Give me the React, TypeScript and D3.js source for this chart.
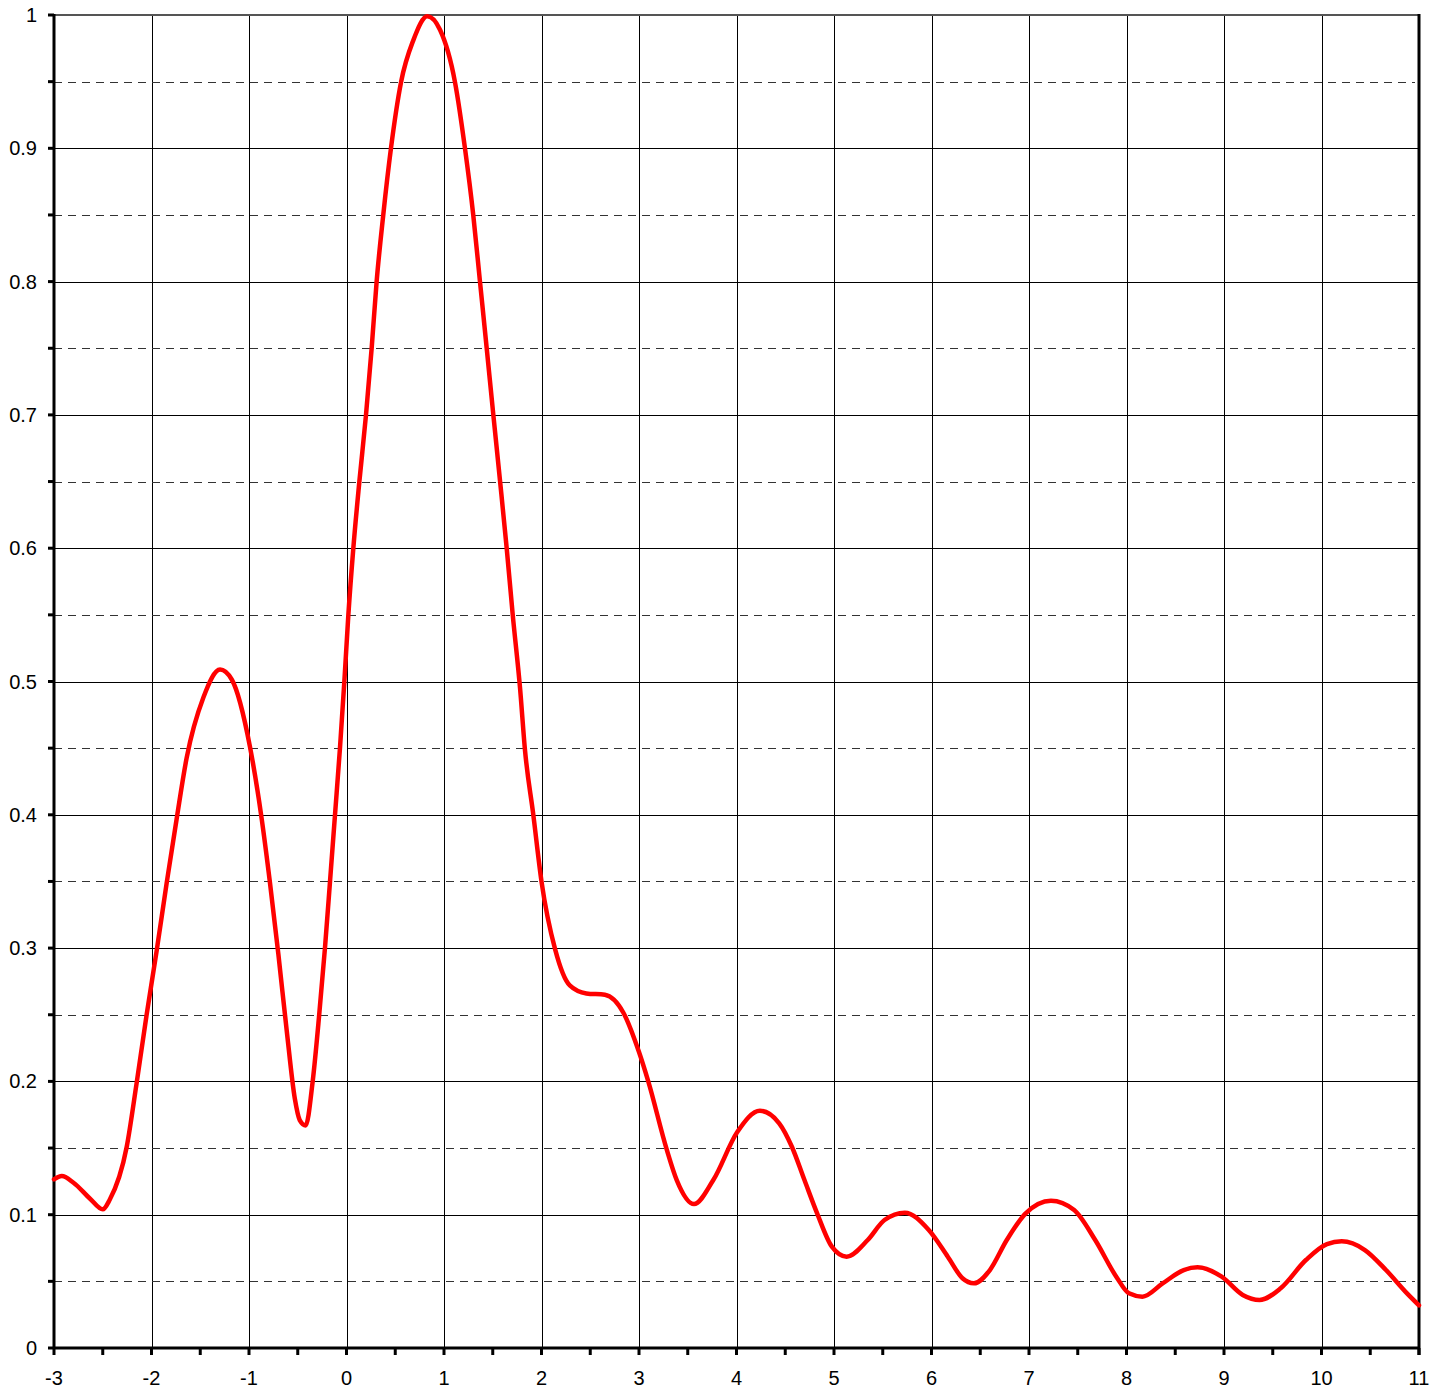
import React from "react";
import * as d3 from "d3";

const xValues = [
  -3, -2.92, -2.8, -2.63, -2.5, -2.43, -2.254, -2.152, -2.05, -1.947, -1.844, -1.742, -1.64, -1.468,
  -1.297, -1.177, -0.99, -0.87, -0.785, -0.699, -0.613, -0.53, -0.48, -0.419, -0.347, -0.28,
  -0.221, -0.169, -0.118, -0.067, -0.022, 0.019, 0.07, 0.132, 0.2, 0.258, 0.309, 0.377, 0.456,
  0.559, 0.685, 0.829, 0.959, 1.113, 1.215, 1.3, 1.369, 1.438, 1.506, 1.574, 1.643, 1.705, 1.78,
  1.83, 1.916, 2.0, 2.14, 2.29, 2.46, 2.65, 2.84, 3.0, 3.095, 3.284, 3.387, 3.564, 3.762, 4.008,
  4.24, 4.438, 4.568, 4.697, 4.827, 4.978, 5.129, 5.346, 5.518, 5.726, 5.972, 6.167, 6.318, 6.435,
  6.599, 6.772, 6.966, 7.225, 7.463, 7.679, 7.895, 8.025, 8.163, 8.371, 8.587, 8.729, 8.976,
  9.192, 9.365, 9.581, 9.84, 10.056, 10.207, 10.445, 10.661, 10.877, 11,
];
const yValues = [
  0.1265, 0.129, 0.124, 0.112, 0.104, 0.111, 0.151, 0.199, 0.25, 0.298, 0.349, 0.397, 0.4425, 0.488,
  0.509, 0.5015, 0.451, 0.397, 0.349, 0.2955, 0.238, 0.187, 0.171, 0.167, 0.2, 0.25,
  0.3, 0.35, 0.4, 0.45, 0.5, 0.55, 0.6, 0.65, 0.7, 0.75, 0.8, 0.85, 0.9,
  0.9495, 0.981, 0.999, 0.9889, 0.9495, 0.9, 0.85, 0.8, 0.75, 0.7, 0.651, 0.6, 0.55, 0.495,
  0.449, 0.4, 0.35, 0.299, 0.272, 0.266, 0.265, 0.2515, 0.222, 0.2, 0.149, 0.126, 0.108, 0.126, 0.162,
  0.178, 0.1686, 0.151, 0.126, 0.101, 0.076, 0.0685, 0.081, 0.096, 0.1015, 0.0885, 0.0685, 0.0523, 0.0485,
  0.0585, 0.081, 0.101, 0.1105, 0.1035, 0.081, 0.0535, 0.041, 0.0385, 0.0485, 0.0585, 0.0605, 0.0535,
  0.0398, 0.036, 0.0448, 0.066, 0.078, 0.08, 0.0735, 0.0585, 0.041, 0.032,
];

const xTicks = [-3, -2, -1, 0, 1, 2, 3, 4, 5, 6, 7, 8, 9, 10, 11];
const xMinorTicks = d3.range(-3, 11.001, 0.5);
const yMajorTicks = [0, 0.1, 0.2, 0.3, 0.4, 0.5, 0.6, 0.7, 0.8, 0.9, 1];
const yMinorTicks = [0.05, 0.15, 0.25, 0.35, 0.45, 0.55, 0.65, 0.75, 0.85, 0.95];
const yLabels = ["0", "0.1", "0.2", "0.3", "0.4", "0.5", "0.6", "0.7", "0.8", "0.9", "1"];

const W = 1445;
const H = 1389;
const left = 54;
const right = 1419;
const top = 15;
const bottom = 1348;

export default function App() {
  const x = d3.scaleLinear().domain([-3, 11]).range([left, right]);
  const y = d3.scaleLinear().domain([0, 1]).range([bottom, top]);
  const data = xValues.map((v, i) => [v, yValues[i]] as [number, number]);
  const line = d3
    .line<[number, number]>()
    .x((d) => x(d[0]))
    .y((d) => y(d[1]))
    .curve(d3.curveMonotoneX);
  const font = "Arial, 'Liberation Sans', sans-serif";
  const r = (v: number) => Math.round(v) + 0.5;

  return (
    <svg
      width={W}
      height={H}
      style={{ position: "absolute", left: 0, top: 0, background: "#fff" }}
    >
      <rect x={0} y={0} width={W} height={H} fill="#fff" />
      {xTicks.slice(1, -1).map((t) => (
        <line key={"vg" + t} x1={r(x(t))} x2={r(x(t))} y1={top} y2={bottom} stroke="#000" strokeWidth={1} />
      ))}
      {yMajorTicks.slice(1, -1).map((t) => (
        <line key={"hg" + t} x1={left} x2={right} y1={r(y(t))} y2={r(y(t))} stroke="#000" strokeWidth={1} />
      ))}
      {yMinorTicks.map((t) => (
        <line
          key={"hm" + t}
          x1={left}
          x2={right - 4}
          y1={r(y(t))}
          y2={r(y(t))}
          stroke="#333"
          strokeWidth={1}
          strokeDasharray="8,6"
        />
      ))}
      <line x1={left} x2={right} y1={top} y2={top} stroke="#555" strokeWidth={2} />
      <line x1={right} x2={right} y1={top - 1} y2={bottom + 7} stroke="#000" strokeWidth={3} />
      <line x1={left} x2={left} y1={top - 1} y2={bottom + 1} stroke="#000" strokeWidth={3} />
      {[...yMajorTicks, ...yMinorTicks].map((t) => (
        <line key={"yt" + t} x1={left - 6} x2={left} y1={y(t)} y2={y(t)} stroke="#000" strokeWidth={3} />
      ))}
      <line x1={left - 1} x2={right + 1} y1={bottom} y2={bottom} stroke="#000" strokeWidth={3} />
      {xMinorTicks.map((t) => (
        <line key={"xt" + t} x1={x(t)} x2={x(t)} y1={bottom} y2={bottom + 7} stroke="#000" strokeWidth={3} />
      ))}
      {yMajorTicks.map((t, i) => (
        <text
          key={"yl" + t}
          x={37}
          y={y(t) + 7}
          textAnchor="end"
          fontFamily={font}
          fontSize={20}
          fill="#000"
        >
          {yLabels[i]}
        </text>
      ))}
      {xTicks.map((t) => (
        <text
          key={"xl" + t}
          x={x(t)}
          y={1385}
          textAnchor="middle"
          fontFamily={font}
          fontSize={20}
          fill="#000"
        >
          {String(t)}
        </text>
      ))}
      <path d={line(data) || ""} fill="none" stroke="#ff0000" strokeWidth={4.5} strokeLinejoin="round" strokeLinecap="round" />
    </svg>
  );
}
